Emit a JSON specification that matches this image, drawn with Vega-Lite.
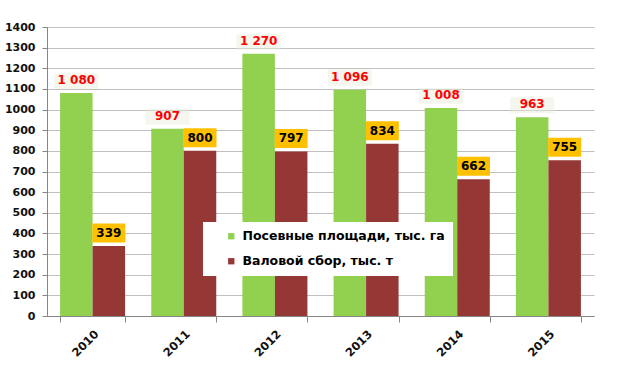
{
  "$schema": "https://vega.github.io/schema/vega-lite/v6.json",
  "autosize": {"type": "none"},
  "padding": {"left": 47, "top": 27, "right": 30, "bottom": 62},
  "width": 547,
  "height": 289,
  "background": "white",
  "config": {
    "view": {"stroke": null},
    "locale": {"number": {"decimal": ",", "thousands": " ", "grouping": [3], "currency": ["", ""]}},
    "font": "DejaVu Sans"
  },
  "data": {
    "values": [
      {"year": "2010", "series": "Посевные площади, тыс. га", "value": 1080},
      {"year": "2010", "series": "Валовой сбор, тыс. т", "value": 339},
      {"year": "2011", "series": "Посевные площади, тыс. га", "value": 907},
      {"year": "2011", "series": "Валовой сбор, тыс. т", "value": 800},
      {"year": "2012", "series": "Посевные площади, тыс. га", "value": 1270},
      {"year": "2012", "series": "Валовой сбор, тыс. т", "value": 797},
      {"year": "2013", "series": "Посевные площади, тыс. га", "value": 1096},
      {"year": "2013", "series": "Валовой сбор, тыс. т", "value": 834},
      {"year": "2014", "series": "Посевные площади, тыс. га", "value": 1008},
      {"year": "2014", "series": "Валовой сбор, тыс. т", "value": 662},
      {"year": "2015", "series": "Посевные площади, тыс. га", "value": 963},
      {"year": "2015", "series": "Валовой сбор, тыс. т", "value": 755}
    ]
  },
  "encoding": {
    "x": {
      "field": "year", "type": "nominal",
      "scale": {"paddingInner": 0.287, "paddingOuter": 0.1435},
      "axis": {
        "title": null, "labelAngle": -45, "tickBand": "extent", "tickSize": 6,
        "domainColor": "#868686", "tickColor": "#868686",
        "labelFont": "DejaVu Sans", "labelFontWeight": "bold", "labelFontSize": 11.5,
        "labelColor": "#111111", "labelPadding": 6
      }
    },
    "xOffset": {
      "field": "series", "type": "nominal",
      "scale": {"domain": ["Посевные площади, тыс. га", "Валовой сбор, тыс. т"], "paddingInner": 0, "paddingOuter": 0}
    },
    "y": {
      "field": "value", "type": "quantitative",
      "scale": {"domain": [0, 1400], "nice": false},
      "axis": {
        "title": null, "values": [0,100,200,300,400,500,600,700,800,900,1000,1100,1200,1300,1400],
        "format": "d",
        "gridColor": "#BFBFBF", "domainColor": "#868686", "tickColor": "#868686", "tickSize": 5,
        "labelFont": "DejaVu Sans", "labelFontWeight": "bold", "labelFontSize": 11,
        "labelColor": "#111111", "labelPadding": 7
      }
    }
  },
  "layer": [
    {
      "mark": {"type": "bar"},
      "encoding": {
        "color": {
          "field": "series", "type": "nominal",
          "scale": {"domain": ["Посевные площади, тыс. га", "Валовой сбор, тыс. т"], "range": ["#92D050", "#953735"]},
          "legend": {
            "title": null, "orient": "none", "legendX": 156, "legendY": 195,
            "fillColor": "white", "padding": 8, "symbolType": "square", "symbolSize": 40,
            "symbolOffset": 14, "labelOffset": 5, "rowPadding": 12, "labelLimit": 400,
            "labelFont": "DejaVu Sans", "labelFontWeight": "bold", "labelFontSize": 12.5,
            "labelColor": "black", "symbolStrokeWidth": 0
          }
        }
      }
    },
    {
      "transform": [{"filter": "datum.series == 'Посевные площади, тыс. га'"}],
      "mark": {"type": "point", "shape": "M-1,-0.36H1V0.36H-1Z", "filled": true, "opacity": 0.45, "color": "#E8EADA", "strokeWidth": 0, "size": 1936, "yOffset": -12, "xOffset": 6}
    },
    {
      "transform": [{"filter": "datum.series == 'Посевные площади, тыс. га'"}],
      "mark": {"type": "text", "color": "#FF0000", "fontWeight": "bold", "fontSize": 12, "font": "DejaVu Sans", "baseline": "middle", "yOffset": -13},
      "encoding": {"text": {"field": "value", "type": "quantitative", "format": ",d"}}
    },
    {
      "transform": [{"filter": "datum.series == 'Валовой сбор, тыс. т'"}],
      "mark": {"type": "point", "shape": "M-1,-0.576H1V0.576H-1Z", "filled": true, "opacity": 1, "color": "#FFC000", "strokeWidth": 0, "size": 1089, "yOffset": -13}
    },
    {
      "transform": [{"filter": "datum.series == 'Валовой сбор, тыс. т'"}],
      "mark": {"type": "text", "color": "#000000", "fontWeight": "bold", "fontSize": 12, "font": "DejaVu Sans", "baseline": "middle", "yOffset": -13},
      "encoding": {"text": {"field": "value", "type": "quantitative", "format": ",d"}}
    }
  ]
}
